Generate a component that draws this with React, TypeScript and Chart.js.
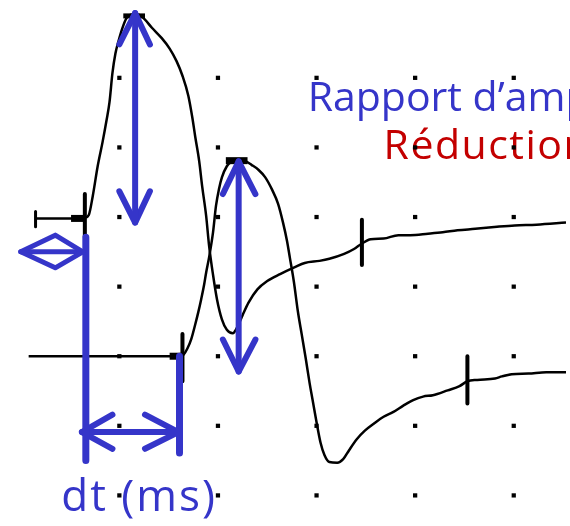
import React, { useEffect, useRef } from "react";
import { Chart, registerables } from "chart.js";

Chart.register(...registerables);

// Grid of the recording (time in ms, amplitude in divisions)
const gridTimes = [1, 2, 3, 4, 5];
const gridLevels = [0, 1, 2, 3, 4, 5, 6];

// Upper trace (proximal response): [ms, div]
const traceA = [
  [0.16, 3.98], [0.58, 3.98], [0.65, 3.99], [0.69, 4.03], [0.73, 4.3], [0.78, 4.73], [0.83, 5.08],
  [0.87, 5.39], [0.9, 5.65], [0.93, 6.07], [0.96, 6.35], [0.99, 6.52], [1.03, 6.71], [1.07, 6.85],
  [1.13, 6.91], [1.19, 6.91], [1.25, 6.85], [1.33, 6.72], [1.43, 6.57], [1.51, 6.42], [1.58, 6.24],
  [1.64, 6.03], [1.7, 5.74], [1.74, 5.43], [1.77, 5.15], [1.81, 4.8], [1.84, 4.44], [1.88, 4.02],
  [1.91, 3.59], [1.95, 3.17], [1.99, 2.82], [2.04, 2.53], [2.09, 2.38], [2.15, 2.33], [2.2, 2.43],
  [2.25, 2.59], [2.31, 2.77], [2.4, 2.96], [2.5, 3.08], [2.63, 3.18], [2.78, 3.28], [2.88, 3.34],
  [3.03, 3.37], [3.13, 3.4], [3.28, 3.47], [3.38, 3.54], [3.46, 3.62], [3.55, 3.68], [3.68, 3.69],
  [3.83, 3.74], [3.95, 3.74], [4.13, 3.76], [4.28, 3.78], [4.43, 3.81], [4.61, 3.83], [4.83, 3.86],
  [5.01, 3.88], [5.23, 3.89], [5.53, 3.92],
];

// Lower trace (distal response): [ms, div]
const traceB = [
  [0.08, 2.0], [1.53, 2.0], [1.61, 2.0], [1.65, 2.02], [1.69, 2.11], [1.73, 2.25], [1.77, 2.46],
  [1.8, 2.63], [1.83, 2.82], [1.86, 3.03], [1.88, 3.2], [1.91, 3.42], [1.95, 3.78], [1.98, 4.16],
  [2.01, 4.4], [2.04, 4.57], [2.09, 4.73], [2.14, 4.8], [2.2, 4.83], [2.27, 4.81], [2.34, 4.75],
  [2.41, 4.68], [2.48, 4.57], [2.55, 4.39], [2.61, 4.19], [2.66, 3.92], [2.7, 3.66], [2.73, 3.41],
  [2.77, 3.07], [2.81, 2.65], [2.85, 2.31], [2.89, 1.97], [2.93, 1.61], [2.96, 1.37], [3.0, 1.05],
  [3.04, 0.76], [3.08, 0.58], [3.13, 0.48], [3.21, 0.47], [3.27, 0.52], [3.33, 0.65], [3.41, 0.81],
  [3.49, 0.93], [3.58, 1.03], [3.68, 1.13], [3.78, 1.2], [3.88, 1.29], [3.98, 1.37], [4.08, 1.42],
  [4.18, 1.44], [4.33, 1.51], [4.45, 1.57], [4.53, 1.64], [4.63, 1.66], [4.81, 1.68], [4.88, 1.71],
  [4.98, 1.74], [5.15, 1.75], [5.33, 1.77], [5.53, 1.77],
];

// Cursor marks on the traces
const startTickA = [[0.15, 4.08], [0.15, 3.86]];
const onsetBarA = [[0.51, 3.98], [0.65, 3.98]];
const onsetTickA = [[0.65, 4.33], [0.65, 3.71]];
const peakBarA = [[1.04, 6.89], [1.26, 6.89]];
const endTickA = [[3.46, 3.96], [3.46, 3.31]];
const onsetBarB = [[1.51, 2.0], [1.63, 2.0]];
const onsetTickB = [[1.64, 2.32], [1.64, 1.64]];
const peakBarB = [[2.08, 4.81], [2.3, 4.81]];
const endTickB = [[4.53, 2.0], [4.53, 1.32]];

// Blue annotations
const ampArrowA = [[1.16, 6.93], [1.16, 3.92]];
const ampHeadA1 = [[1.0, 6.48], [1.16, 6.93], [1.31, 6.48]];
const ampHeadA2 = [[1.0, 4.37], [1.16, 3.92], [1.31, 4.37]];
const ampArrowB = [[2.21, 4.8], [2.21, 1.78]];
const ampHeadB1 = [[2.05, 4.33], [2.21, 4.8], [2.38, 4.33]];
const ampHeadB2 = [[2.05, 2.24], [2.21, 1.78], [2.38, 2.24]];
const diamond = [[0.63, 3.5], [0.35, 3.74], [0.0, 3.5], [0.35, 3.27], [0.63, 3.5]];
const diamondBar = [[0.0, 3.5], [0.63, 3.5]];
const cursorA = [[0.66, 3.71], [0.66, 0.5]];
const cursorB = [[1.61, 2.0], [1.61, 0.61]];
const dtShaft = [[0.62, 0.91], [1.6, 0.91]];
const dtHeadL = [[0.93, 1.16], [0.62, 0.91], [0.93, 0.67]];
const dtHeadR = [[1.26, 1.16], [1.6, 0.91], [1.26, 0.67]];

const labelTexts = ["Rapport d\u2019amplitude", "R\u00e9duction", "dt (ms)"];

const BLUE = "#3535c9";
const RED = "#c30000";
const FAMILY = '"Comic Sans MS", "Open Sans", sans-serif';

const pts = (a: number[][]) => a.map(([x, y]) => ({ x, y }));

const textPlugin = {
  id: "annotText",
  beforeDatasetsDraw(chart: any) {
    const { ctx, scales } = chart;
    const x = scales.x;
    const y = scales.y;
    ctx.save();
    ctx.textBaseline = "alphabetic";
    ctx.textAlign = "left";
    ctx.font = "41px " + FAMILY;
    ctx.fillStyle = BLUE;
    ctx.fillText(labelTexts[0], x.getPixelForValue(2.91), y.getPixelForValue(5.53));
    ctx.fillStyle = RED;
    (ctx as any).letterSpacing = "1.5px";
    ctx.fillText(labelTexts[1], x.getPixelForValue(3.68), y.getPixelForValue(4.83));
    ctx.fillStyle = BLUE;
    ctx.font = "44px " + FAMILY;
    (ctx as any).letterSpacing = "2px";
    ctx.textAlign = "center";
    ctx.fillText(labelTexts[2], x.getPixelForValue(1.2), y.getPixelForValue(-0.23));
    ctx.restore();
  },
};

export default function App() {
  const ref = useRef<HTMLCanvasElement>(null);

  useEffect(() => {
    document.body.style.margin = "0";
    const canvas = ref.current;
    if (!canvas) return;

    const seg = (data: number[][], color: string, width: number, order: number, cap = "butt") => ({
      data: pts(data),
      showLine: true,
      borderColor: color,
      backgroundColor: color,
      borderWidth: width,
      pointRadius: 0,
      borderCapStyle: cap,
      borderJoinStyle: "round",
      fill: false,
      order,
    });

    const gridPts: { x: number; y: number }[] = [];
    gridTimes.forEach((t) => gridLevels.forEach((v) => gridPts.push({ x: t, y: v })));

    const chart = new Chart(canvas, {
      type: "scatter",
      data: {
        datasets: [
          {
            data: gridPts,
            pointStyle: "rect",
            pointRadius: 3,
            backgroundColor: "#000",
            borderWidth: 0,
            showLine: false,
            order: 0,
          } as any,
          { ...seg(traceA, "#000", 2.5, 3), cubicInterpolationMode: "monotone" },
          { ...seg(traceB, "#000", 2.5, 3), cubicInterpolationMode: "monotone" },
          seg(startTickA, "#000", 3, 3),
          seg(onsetBarA, "#000", 7, 3),
          seg(onsetTickA, "#000", 4, 3),
          seg(peakBarA, "#000", 5, 3),
          seg(endTickA, "#000", 4, 3),
          seg(onsetBarB, "#000", 7, 3),
          seg(onsetTickB, "#000", 4, 3),
          seg(peakBarB, "#000", 7, 3),
          seg(endTickB, "#000", 4, 3),
          seg(ampArrowA, BLUE, 6, 1),
          seg(ampHeadA1, BLUE, 6, 1, "round"),
          seg(ampHeadA2, BLUE, 6, 1, "round"),
          seg(ampArrowB, BLUE, 6, 1),
          seg(ampHeadB1, BLUE, 6, 1, "round"),
          seg(ampHeadB2, BLUE, 6, 1, "round"),
          seg(diamond, BLUE, 5, 1, "round"),
          seg(diamondBar, BLUE, 5, 1, "round"),
          seg(cursorA, BLUE, 7, 1),
          seg(cursorB, BLUE, 7, 1),
          seg(dtShaft, BLUE, 6, 1, "round"),
          seg(dtHeadL, BLUE, 6, 1, "round"),
          seg(dtHeadR, BLUE, 6, 1, "round"),
        ] as any,
      },
      options: {
        animation: false,
        responsive: false,
        devicePixelRatio: 1,
        events: [],
        layout: { padding: 0 },
        scales: {
          x: { type: "linear", min: -0.17, max: 5.53, display: false },
          y: { type: "linear", min: -0.382, max: 7.061, display: false },
        },
        plugins: {
          legend: { display: false },
          tooltip: { enabled: false },
        },
      },
      plugins: [textPlugin],
    } as any);

    return () => chart.destroy();
  }, []);

  return (
    <div style={{ position: "fixed", left: 0, top: 0, width: 570, height: 526, background: "#fff" }}>
      <canvas ref={ref} width={570} height={526} style={{ display: "block" }} />
    </div>
  );
}
